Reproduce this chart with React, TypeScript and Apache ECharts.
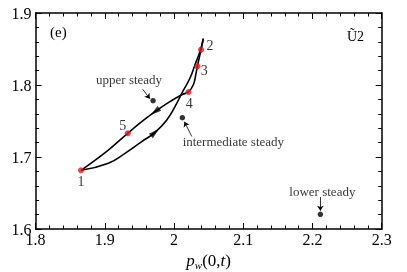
import React, { useEffect, useRef } from 'react';
import * as echarts from 'echarts';

// x: p_w(0,t), y: state variable
const xRange = [1.8, 2.3];
const yRange = [1.6, 1.9];
const tickStep = 0.1;

// lower branch: 1 -> top (arrow pointing up-right)
const lowerBranch: number[][] = [
  [1.8656, 1.6815], [1.9051, 1.6913], [1.9292, 1.7051], [1.9533, 1.7213],
  [1.9725, 1.7343], [1.9895, 1.7514], [2.0039, 1.7746], [2.0111, 1.7885],
  [2.0231, 1.8097], [2.0303, 1.8282], [2.0376, 1.8468], [2.0423, 1.8643],
];
// upper branch: top -> 2 -> 3 -> 4 -> 5 -> 1 (arrow pointing down-left)
const upperBranch: number[][] = [
  [2.0423, 1.8643], [2.0390, 1.8490], [2.0337, 1.8260], [2.0314, 1.8143],
  [2.0279, 1.8004], [2.0207, 1.7903], [2.0111, 1.7865], [1.9900, 1.7745],
  [1.9725, 1.7629], [1.9533, 1.7490], [1.9331, 1.7329], [1.9051, 1.7097],
  [1.8656, 1.6815],
];

const markedLabels = ['1', '2', '3', '4', '5'];
const markedPoints: number[][] = [
  [1.8656, 1.6815], [2.0390, 1.8490], [2.0337, 1.8260], [2.0207, 1.7903], [1.9331, 1.7329],
];

const steadyNames = ['upper steady', 'intermediate steady', 'lower steady'];
const steadyPoints: number[][] = [
  [1.9697, 1.7782], [2.0120, 1.7546], [2.2114, 1.6204],
];
const pointerStarts: number[][] = [
  [1.9548, 1.7940], [2.0256, 1.7285], [2.2114, 1.6444],
];
const pointerEnds: number[][] = [
  [1.9650, 1.7810], [2.0150, 1.7490], [2.2114, 1.6255],
];

// flow-direction arrows placed on the branches
const flowArrowPoints: number[][] = [
  [1.9725, 1.7343], [1.9725, 1.7629],
];

const FONT = "'Liberation Serif', 'Times New Roman', serif";

export default function App() {
  const ref = useRef<HTMLDivElement>(null);
  useEffect(() => {
    if (!ref.current) return;
    const chart = echarts.init(ref.current, undefined, { renderer: 'svg' });

    const numOffsets = [[0, 11], [9, -4], [7, 4], [1, 12], [-5, -8]];
    const steadyOffsets = [[-24, -21], [51, 24], [2, -23]];
    const arrowRot = [-49, 127];

    const axisCommon = {
      type: 'value' as const,
      interval: tickStep,
      axisLine: { show: true, onZero: false, lineStyle: { color: '#000', width: 1.5 } },
      axisTick: { show: true, inside: true, length: 6, lineStyle: { color: '#000', width: 1 } },
      minorTick: { show: true, splitNumber: 5, length: 3.5, lineStyle: { color: '#000', width: 1 } },
      splitLine: { show: false },
      minorSplitLine: { show: false },
    };

    chart.setOption({
      animation: false,
      textStyle: { fontFamily: FONT },
      grid: { left: 35.6, right: 25.3, top: 13, bottom: 43, containLabel: false, outerBoundsMode: 'none' },
      xAxis: [
        {
          ...axisCommon,
          min: xRange[0], max: xRange[1], position: 'bottom',
          axisLabel: {
            color: '#000', fontFamily: FONT, fontSize: 16, margin: 2,
            formatter: (v: number) => String(+v.toFixed(1)),
          },
          name: '{i|p}{s|w}{n|(0,}{i|t}{n|)}',
          nameLocation: 'middle',
          nameGap: 21,
          nameTextStyle: {
            color: '#000', fontFamily: FONT, fontSize: 17,
            rich: {
              i: { fontStyle: 'italic', fontFamily: FONT, fontSize: 17, color: '#000' },
              n: { fontFamily: FONT, fontSize: 17, color: '#000' },
              s: { fontStyle: 'italic', fontFamily: FONT, fontSize: 11, color: '#000', padding: [9, 0, 0, 0] },
            },
          },
        },
        {
          ...axisCommon,
          min: xRange[0], max: xRange[1], position: 'top',
          axisLabel: { show: false },
        },
      ],
      yAxis: [
        {
          ...axisCommon,
          min: yRange[0], max: yRange[1], position: 'left',
          axisLabel: {
            color: '#000', fontFamily: FONT, fontSize: 16, margin: 4,
            formatter: (v: number) => String(+v.toFixed(1)),
          },
        },
        {
          ...axisCommon,
          min: yRange[0], max: yRange[1], position: 'right',
          axisLabel: { show: false },
        },
      ],
      graphic: [
        { type: 'text', left: 50, top: 24, style: { text: '(e)', font: `15px ${FONT}`, fill: '#000' } },
        { type: 'text', left: 347, top: 29, style: { text: 'Ũ2', font: `14px ${FONT}`, fill: '#000' } },
      ],
      series: [
        {
          type: 'line', data: lowerBranch, smooth: 0.5, showSymbol: false,
          lineStyle: { color: '#000', width: 1.6 }, z: 2,
        },
        {
          type: 'line', data: upperBranch, smooth: 0.4, showSymbol: false,
          lineStyle: { color: '#000', width: 1.6 }, z: 2,
        },
        {
          type: 'scatter',
          data: flowArrowPoints.map((p, i) => ({ value: p, symbolRotate: arrowRot[i] })),
          symbol: 'triangle', symbolSize: [6, 11],
          itemStyle: { color: '#000' }, z: 3,
        },
        {
          type: 'scatter',
          data: markedPoints.map((p, i) => ({
            value: p,
            label: {
              show: true, formatter: markedLabels[i], position: 'inside',
              offset: numOffsets[i],
            },
          })),
          symbol: 'circle', symbolSize: 6,
          itemStyle: { color: '#e8141c' },
          label: { color: '#000', fontFamily: FONT, fontSize: 14 },
          z: 4,
        },
        {
          type: 'scatter',
          data: steadyPoints.map((p, i) => ({
            value: p,
            label: {
              show: true, formatter: steadyNames[i], position: 'inside',
              offset: steadyOffsets[i],
            },
          })),
          symbol: 'circle', symbolSize: 5.5,
          itemStyle: { color: '#000' },
          label: { color: '#000', fontFamily: FONT, fontSize: 13 },
          z: 4,
          markLine: {
            silent: true,
            symbol: ['none', 'arrow'],
            symbolSize: 5,
            label: { show: false },
            lineStyle: { color: '#000', width: 0.8, type: 'solid' },
            data: pointerStarts.map((s, i) => [
              { coord: s },
              { coord: pointerEnds[i] },
            ]),
          },
        },
      ],
    });
    return () => chart.dispose();
  }, []);
  return <div ref={ref} style={{ position: 'fixed', left: 0, top: 0, width: 407, height: 272 }} />;
}
